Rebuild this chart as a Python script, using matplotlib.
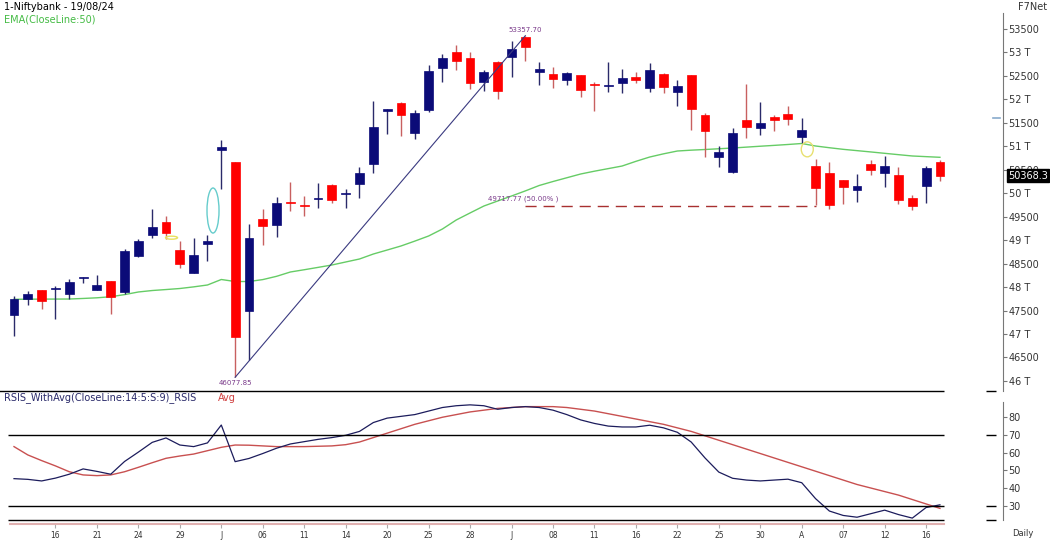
import numpy as np
import matplotlib
matplotlib.use('Agg')
import matplotlib.pyplot as plt
from matplotlib.patches import Ellipse

# daily candles, 13 May .. 19 Aug 2024
opens = [47405, 47753, 47932, 47966, 47846, 48195, 47938, 48124, 47896, 48663,
         49110, 49387, 48790, 48307, 48912, 50921, 50672, 47491, 49442, 49317,
         49820, 49735, 49870, 50182, 49990, 50197, 50617, 51746, 51930, 51290,
         51774, 52669, 53003, 52882, 52371, 52803, 52903, 53340, 52577, 52541,
         52407, 52527, 52330, 52290, 52356, 52470, 52236, 52541, 52164, 52513,
         51667, 50779, 50459, 51561, 51397, 51617, 51688, 51192, 50581, 50438,
         50282, 50069, 50616, 50424, 50389, 49905, 50154, 50672]
highs = [47817, 47910, 47940, 48023, 48172, 48215, 48251, 48124, 48812, 49031,
         49664, 49509, 48989, 49040, 49104, 51135, 50672, 49345, 49658, 49927,
         50233, 49942, 50212, 50190, 50085, 50553, 51959, 51789, 51940, 51774,
         52733, 52974, 53165, 53016, 52626, 52810, 53244, 53357.7, 52803, 52684,
         52590, 52527, 52371, 52790, 52641, 52590, 52769, 52569, 52413, 52513,
         51710, 51007, 51384, 52328, 51951, 51674, 51866, 51597, 50730, 50672,
         50290, 50410, 50708, 50800, 50553, 49955, 50581, 50708]
lows = [46964, 47612, 47527, 47326, 47753, 48094, 47938, 47420, 47860, 48635,
        49040, 49031, 48400, 48294, 48563, 50084, 46077.85, 46446, 48891, 49074,
        49622, 49523, 49693, 49792, 49680, 49892, 50425, 51269, 51213, 51150,
        51738, 52371, 52626, 52228, 52172, 52002, 52484, 52824, 52300, 52236,
        52300, 52057, 51759, 52160, 52143, 52343, 52164, 52143, 51859, 51348,
        50779, 50553, 50425, 51171, 51241, 51326, 51454, 51077, 49740, 49658,
        49771, 49820, 50389, 50140, 49771, 49643, 49786, 50267]
closes = [47746, 47853, 47697, 47975, 48115, 48210, 48039, 47783, 48776, 48982,
          49274, 49147, 48498, 48678, 48982, 50979, 46930, 49053, 49302, 49799,
          49800, 49720, 49890, 49856, 50010, 50438, 51405, 51789, 51674, 51704,
          52599, 52876, 52818, 52349, 52577, 52185, 53074, 53123, 52654, 52435,
          52556, 52200, 52310, 52305, 52450, 52413, 52626, 52271, 52286, 51789,
          51326, 50879, 51290, 51418, 51504, 51561, 51582, 51348, 50106, 49743,
          50127, 50154, 50495, 50581, 49856, 49735, 50531, 50368.3]
ema50 = [47740, 47742, 47744, 47745, 47746, 47758, 47772, 47795, 47840, 47896,
         47927, 47948, 47970, 48005, 48045, 48162, 48119, 48119, 48160, 48230,
         48322, 48370, 48420, 48471, 48535, 48599, 48705, 48790, 48876, 48980,
         49089, 49238, 49430, 49580, 49728, 49835, 49941, 50050, 50165, 50250,
         50330, 50410, 50470, 50525, 50580, 50680, 50772, 50840, 50900, 50918,
         50932, 50948, 50964, 50983, 51002, 51020, 51039, 51060, 51007, 50970,
         50936, 50908, 50880, 50851, 50822, 50794, 50780, 50766]
rsi = [45.3, 44.9, 44.0, 45.6, 47.8, 50.8, 49.4, 47.8, 55.0, 60.3,
       65.8, 68.3, 64.3, 63.4, 65.5, 75.6, 54.9, 56.7, 59.5, 62.5,
       64.9, 66.2, 67.5, 68.5, 69.8, 72.0, 77.0, 79.5, 80.5, 81.5,
       83.5, 85.5, 86.5, 87.0, 86.5, 84.5, 85.5, 86.0, 85.5, 84.0,
       81.5, 78.5, 76.5, 75.0, 74.5, 74.5, 75.5, 74.0, 71.5, 66.0,
       57.0, 49.0, 45.5, 44.5, 44.0, 44.5, 45.0, 43.0, 34.0, 27.0,
       24.5, 23.5, 25.5, 27.5, 25.0, 23.0, 29.0, 30.5]
rsi_avg = [63.4, 58.7, 55.5, 52.5, 49.2, 47.4, 47.0, 47.4, 49.2, 51.7,
           54.3, 56.8, 58.1, 59.2, 61.1, 63.0, 64.3, 64.2, 63.8, 63.4,
           63.4, 63.4, 63.6, 63.8, 64.5, 66.0, 68.5, 71.0, 73.5, 76.0,
           78.0, 80.0, 81.5, 83.0, 84.0, 85.0, 85.5, 86.0, 86.0, 86.0,
           85.5, 84.5, 83.5, 82.0, 80.5, 79.0, 77.5, 76.0, 74.0, 72.0,
           69.5, 67.0, 64.5, 62.0, 59.5, 57.0, 54.5, 52.0, 49.5, 47.0,
           44.5, 42.0, 40.0, 38.0, 36.0, 33.5, 31.0, 28.5]
date_labels = ['16', '21', '24', '29', 'J', '06', '11', '14', '20', '25', '28',
               'J', '08', '11', '16', '22', '25', '30', 'A', '07', '12', '16']
price_ticks = [46000, 46500, 47000, 47500, 48000, 48500, 49000, 49500,
               50000, 50500, 51000, 51500, 52000, 52500, 53000, 53500]
price_tick_labels = ['46 T', '46500', '47 T', '47500', '48 T', '48500', '49 T', '49500',
                     '50 T', '50500', '51 T', '51500', '52 T', '52500', '53 T', '53500']
rsi_ticks = [30, 40, 50, 60, 70, 80]
fib_level = 49717.77

NAVY = '#0b0b78'
RED = '#ff0000'
PURPLE = '#7a3a8a'
AXIS = '#777777'
TXT = '#333333'

W, H = 1050, 542
fig = plt.figure(figsize=(W / 100, H / 100), dpi=100)


def px_axes(left, top, right, bottom):
    return fig.add_axes([left / W, 1 - bottom / H, (right - left) / W, (bottom - top) / H])


ax = px_axes(0, 0, 1003, 391)
rax = px_axes(0, 393, 1003, 524.3)
xlim = (-14 / 13.82, (1003 - 14) / 13.82)

x = np.arange(len(closes))
o, h, l, c = (np.array(v, dtype=float) for v in (opens, highs, lows, closes))
up = c >= o

# candles
ax.vlines(x, l, h, colors=np.where(up, '#2a2a6a', '#c86060'), lw=1, zorder=2)
bottom = np.minimum(o, c)
height = np.maximum(np.abs(c - o), 22)
cols = np.where(up, NAVY, RED)
ax.bar(x, height, bottom=bottom, width=0.64, color=cols, edgecolor=cols, lw=0.5, zorder=3)

# EMA
ax.plot(x, ema50, color='#66cc66', lw=1, zorder=1)

# swing line low -> high
ax.plot([16, 37], [lows[16], highs[37]], color='#3a3a80', lw=0.8, zorder=4)
ax.annotate(f'{lows[16]:.2f}', xy=(16, lows[16]), xytext=(0, -2), textcoords='offset points',
            ha='center', va='top', fontsize=5, color=PURPLE)
ax.annotate(f'{highs[37]:.2f}', xy=(37, highs[37]), xytext=(0, 2), textcoords='offset points',
            ha='center', va='bottom', fontsize=5, color=PURPLE)

# 50% retracement
ax.plot([37, 58], [fib_level, fib_level], color='#a83030', lw=1, dashes=(8, 5), zorder=1)
ax.annotate(f'{fib_level:.2f} (50.00% )', xy=(34.3, fib_level), xytext=(0, 3),
            textcoords='offset points', ha='left', va='bottom', fontsize=5, color=PURPLE)

# highlight marks
ax.add_patch(Ellipse((14.4, 49632), 0.87, 960, fill=False, ec='#66cccc', lw=1, zorder=5))
ax.add_patch(Ellipse((11.4, 49053), 0.87, 64, fill=False, ec='#e8e060', lw=1, zorder=5))
ax.add_patch(Ellipse((57.4, 50936), 0.87, 320, fill=False, ec='#e8e070', lw=1, zorder=5))
ax.plot([70.84, 71.35], [51603, 51603], color='#88aacc', lw=1.2, clip_on=False)

ax.set_xlim(*xlim)
ax.set_ylim(45786, 54118)
for s in ('left', 'top', 'bottom'):
    ax.spines[s].set_visible(False)
ax.spines['right'].set_color(AXIS)
ax.spines['right'].set_bounds(45786, 53841)
ax.set_xticks([])
ax.yaxis.tick_right()
ax.set_yticks(price_ticks)
ax.set_yticklabels(price_tick_labels)
ax.tick_params(axis='y', length=3, width=0.8, color=AXIS, labelsize=7, labelcolor=TXT, pad=1)
# panel bottom line
ax.hlines(45786 + 10, -1.2, 67.3, color='k', lw=1, clip_on=False)
ax.hlines(45786 + 10, 70.33, 71.06, color='k', lw=1, clip_on=False)

# RSI panel
rax.plot(x, rsi_avg, color='#c85050', lw=1)
rax.plot(x, rsi, color='#1c1c5c', lw=0.9)
rax.hlines([70, 30, 21.9], -0.43, 67.3, color='k', lw=1)
rax.hlines([70, 30, 21.9], 70.33, 71.06, color='k', lw=1, clip_on=False)
rax.set_xlim(*xlim)
rax.set_ylim(19.5, 93.7)
for s in ('left', 'top'):
    rax.spines[s].set_visible(False)
rax.spines['right'].set_color(AXIS)
rax.spines['right'].set_bounds(21.9, 88.8)
rax.spines['bottom'].set_color('#e0b0b0')
rax.spines['bottom'].set_linewidth(1.5)
rax.spines['bottom'].set_bounds(-0.3, 67.3)
rax.yaxis.tick_right()
rax.set_yticks(rsi_ticks)
rax.tick_params(axis='y', length=3, width=0.8, color=AXIS, labelsize=7, labelcolor=TXT, pad=1)
rax.set_xticks(range(3, 67, 3))
rax.set_xticklabels(date_labels)
rax.tick_params(axis='x', length=3, width=0.8, color='#aaaaaa', labelsize=5.5,
                labelcolor=TXT, pad=2)

# texts
fig.text(4 / W, 1 - 7 / H, '1-Niftybank - 19/08/24', fontsize=7, color='k', va='center')
fig.text(4 / W, 1 - 20 / H, 'EMA(CloseLine:50)', fontsize=7, color='#44bb44', va='center')
fig.text(1018 / W, 1 - 7 / H, 'F7Net', fontsize=7, color=TXT, va='center')
fig.text(4 / W, 1 - 398 / H, 'RSIS_WithAvg(CloseLine:14:5:S:9)_RSIS', fontsize=7,
         color='#2a2a6a', va='center')
fig.text(218 / W, 1 - 398 / H, 'Avg', fontsize=7, color='#d04040', va='center')
fig.text(1012 / W, 1 - 533 / H, 'Daily', fontsize=6, color=TXT, va='center')
fig.text(1008 / W, 1 - 175.7 / H, f'{closes[-1]:.1f}', fontsize=7, color='w', va='center',
         ha='left', bbox=dict(facecolor='black', edgecolor='black', pad=1))

fig.savefig('out.png', dpi=100)
